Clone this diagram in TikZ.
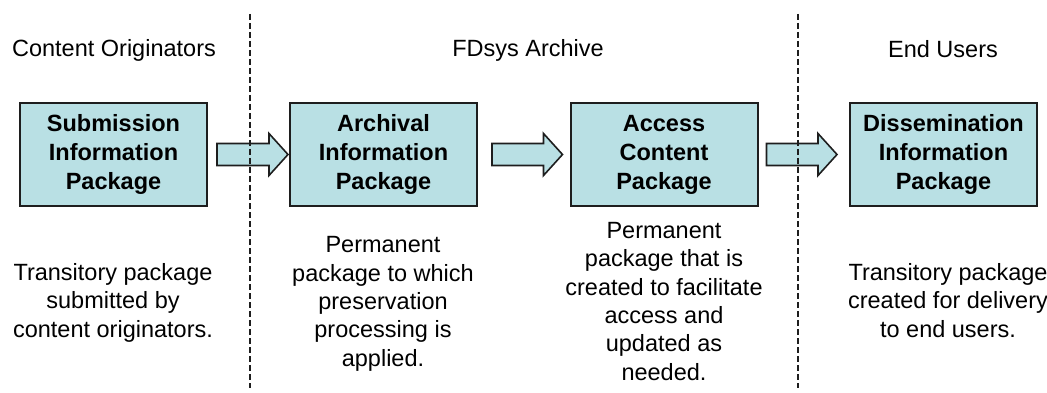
\documentclass[tikz,border=0pt]{standalone}
\usepackage{fontspec}
\setmainfont{Liberation Sans}
\usetikzlibrary{calc}
\definecolor{pkgfill}{RGB}{185,224,228}
\definecolor{pkgline}{RGB}{30,30,30}

% fat block arrow from coordinate #1 to coordinate #2
\newcommand\blockarrow[2]{%
  \draw[flowarrow] ($(#1)+(0,-11)$) -- ($(#2)+(-19,-11)$) -- ($(#2)+(-19,-21)$)
    -- (#2) -- ($(#2)+(-19,21)$) -- ($(#2)+(-19,11)$) -- ($(#1)+(0,11)$) -- cycle;}

\begin{document}
\begin{tikzpicture}[x=1pt,y=-1pt,
  every node/.style={inner sep=0pt, font=\fontsize{23.5}{28.3}\selectfont},
  pkgbox/.style={draw=pkgline, line width=2pt, fill=pkgfill,
    minimum width=187pt, minimum height=103pt, align=center,
    font=\fontsize{23.5}{29}\selectfont\bfseries},
  heading/.style={anchor=base},
  desc/.style={align=center, anchor=base},
  divider/.style={draw=pkgline, line width=1.6pt, dash pattern=on 6pt off 3pt},
  flowarrow/.style={draw=pkgline, line width=1.6pt, fill=pkgfill, line join=miter}
]
\useasboundingbox (0,0) rectangle (1047,393);

% column headings
\node[heading] (hco) at (114,57) {Content Originators};
\node[heading] (hfd) at (528,57) {FDsys Archive};
\node[heading] (heu) at (943,58) {End Users};

% information packages
\node[pkgbox] (sip) at (113.5,154.5) {Submission\\Information\\Package};
\node[pkgbox] (aip) at (383.5,154.5) {Archival\\Information\\Package};
\node[pkgbox] (acp) at (664,154.5) {Access\\Content\\Package};
\node[pkgbox] (dip) at (943.5,154.5) {Dissemination\\Information\\Package};

% descriptions (base anchor sits on the last line)
\node[desc] (dsip) at (113,337) {Transitory package\\submitted by\\content originators.};
\node[desc] (daip) at (383,366) {Permanent\\package to which\\preservation\\processing is\\applied.};
\node[desc] (dacp) at (664,380) {Permanent\\package that is\\created to facilitate\\access and\\updated as\\needed.};
\node[desc] (ddip) at (948,337) {Transitory package\\created for delivery\\to end users.};

% flow arrows between packages
\coordinate (a1s) at ($(sip.east)+(9,0)$);
\coordinate (a1e) at ($(aip.west)+(-1,0)$);
\coordinate (a2s) at ($(aip.east)+(14,0)$);
\coordinate (a2e) at ($(acp.west)+(-7,0)$);
\coordinate (a3s) at ($(acp.east)+(8,0)$);
\coordinate (a3e) at ($(dip.west)+(-12,0)$);
\blockarrow{a1s}{a1e}
\blockarrow{a2s}{a2e}
\blockarrow{a3s}{a3e}

% domain boundaries
\coordinate (b1t) at (250,14);
\coordinate (b1b) at (250,388);
\coordinate (b2t) at (798,14);
\coordinate (b2b) at (798,388);
\draw[divider] (b1t) -- (b1b);
\draw[divider] (b2t) -- (b2b);
\end{tikzpicture}
\end{document}
